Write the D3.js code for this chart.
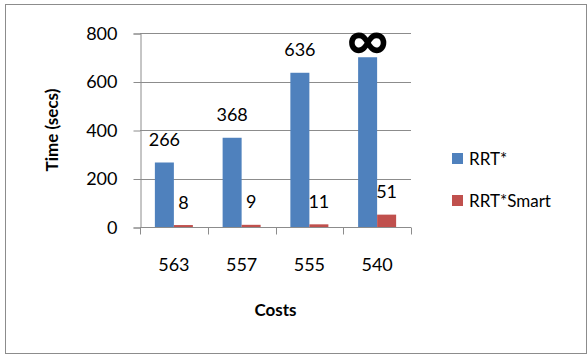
<!DOCTYPE html>
<html>
<head>
<meta charset="utf-8">
<script src="https://cdnjs.cloudflare.com/ajax/libs/d3/7.8.5/d3.min.js"></script>
<style>
    body { margin: 0; background: #fff; }
    text { font-family: Lato, "Open Sans", sans-serif; fill: #000; }
</style>
</head>
<body>
<div id="canvas-container"></div>
<script>
var categories = ["563", "557", "555", "540"];
var seriesNames = ["RRT*", "RRT*Smart"];
var rrtStar = [266, 368, 636, 700];
var rrtSmart = [8, 9, 11, 51];
var rrtStarLabels = ["266", "368", "636", "\u221E"];
var rrtSmartLabels = ["8", "9", "11", "51"];
var yTicks = [0, 200, 400, 600, 800];

var colors = ["#4F81BD", "#C0504D"];

function drawChart() {
    var w = 587, h = 355;
    var left = 140, right = 411, top = 33, bottom = 227;

    var svg = d3.select("#canvas-container").append("svg")
        .attr("width", w)
        .attr("height", h);

    // outer frame
    svg.append("rect")
        .attr("x", 5.5).attr("y", 4.5)
        .attr("width", 581).attr("height", 349)
        .attr("fill", "none")
        .attr("stroke", "#8c8c8c");

    var x0 = d3.scaleBand().domain(categories).range([left, right])
        .paddingInner(0.439).paddingOuter(0.2195);
    var x1 = d3.scaleBand().domain(seriesNames).range([0, x0.bandwidth()]);
    var y = d3.scaleLinear().domain([0, 800]).range([bottom, top]);

    // gridlines
    svg.append("g").selectAll("line").data(yTicks.filter(function(d) { return d > 0; }))
        .enter().append("line")
        .attr("x1", left).attr("x2", right)
        .attr("y1", function(d) { return Math.round(y(d)) + 0.5; })
        .attr("y2", function(d) { return Math.round(y(d)) + 0.5; })
        .attr("stroke", "#8c8c8c");

    // y axis
    var yAxis = svg.append("g")
        .attr("transform", "translate(" + (left + 0.5) + ",0.5)")
        .call(d3.axisLeft(y).tickValues(yTicks).tickSize(7).tickPadding(16));
    yAxis.selectAll("line, path").attr("stroke", "#8c8c8c");
    yAxis.selectAll("text").attr("font-size", "18px").attr("font-family", "Lato");

    // x axis (ticks at category boundaries)
    var xAxisG = svg.append("g").attr("transform", "translate(0," + (bottom + 0.5) + ")");
    xAxisG.append("line").attr("x1", left).attr("x2", right).attr("stroke", "#8c8c8c");
    var bounds = categories.map(function(c) { return x0(c) - x0.step() * x0.paddingOuter(); });
    bounds.push(right);
    xAxisG.selectAll("line.tick").data(bounds).enter().append("line")
        .attr("class", "tick")
        .attr("x1", function(d) { return Math.round(d) + 0.5; })
        .attr("x2", function(d) { return Math.round(d) + 0.5; })
        .attr("y1", 0).attr("y2", 7)
        .attr("stroke", "#8c8c8c");
    xAxisG.selectAll("text").data(categories).enter().append("text")
        .attr("x", function(d) { return x0(d) + x0.bandwidth() / 2; })
        .attr("y", 43)
        .attr("text-anchor", "middle")
        .attr("font-size", "18px")
        .text(function(d) { return d; });

    var series = [rrtStar, rrtSmart];
    var labels = [rrtStarLabels, rrtSmartLabels];

    series.forEach(function(vals, s) {
        svg.append("g").selectAll("rect").data(vals).enter().append("rect")
            .attr("x", function(d, i) { return x0(categories[i]) + x1(seriesNames[s]); })
            .attr("y", function(d) { return y(d); })
            .attr("width", x1.bandwidth())
            .attr("height", function(d) { return bottom - y(d); })
            .attr("fill", colors[s]);

        svg.append("g").selectAll("text").data(labels[s]).enter().append("text")
            .attr("x", function(d, i) { return x0(categories[i]) + x1(seriesNames[s]) + x1.bandwidth() / 2; })
            .attr("y", function(d, i) { return d == "\u221E" ? y(vals[i]) + 3 : y(vals[i]) - 16.5; })
            .attr("text-anchor", "middle")
            .attr("font-size", function(d) { return d == "\u221E" ? "58px" : "18px"; })
            .attr("font-weight", function(d) { return d == "\u221E" ? "bold" : "normal"; })
            .attr("font-family", function(d) { return d == "\u221E" ? "DejaVu Sans" : "Lato"; })
            .text(function(d) { return d; });
    });

    // axis titles
    svg.append("text")
        .attr("transform", "translate(58," + ((top + bottom) / 2) + ") rotate(-90)")
        .attr("text-anchor", "middle")
        .attr("font-size", "17px")
        .attr("font-weight", "bold")
        .text("Time (secs)");
    svg.append("text")
        .attr("x", (left + right) / 2)
        .attr("y", 316)
        .attr("text-anchor", "middle")
        .attr("font-size", "17px")
        .attr("font-weight", "bold")
        .text("Costs");

    // legend
    var legend = svg.append("g").attr("transform", "translate(452,153)");
    seriesNames.forEach(function(name, i) {
        var g = legend.append("g").attr("transform", "translate(0," + (i * 42) + ")");
        g.append("rect").attr("width", 11).attr("height", 11).attr("fill", colors[i]);
        g.append("text").attr("x", 17).attr("y", 11.5)
            .attr("font-size", "17px")
            .text(name);
    });
}

drawChart();
</script>
</body>
</html>
